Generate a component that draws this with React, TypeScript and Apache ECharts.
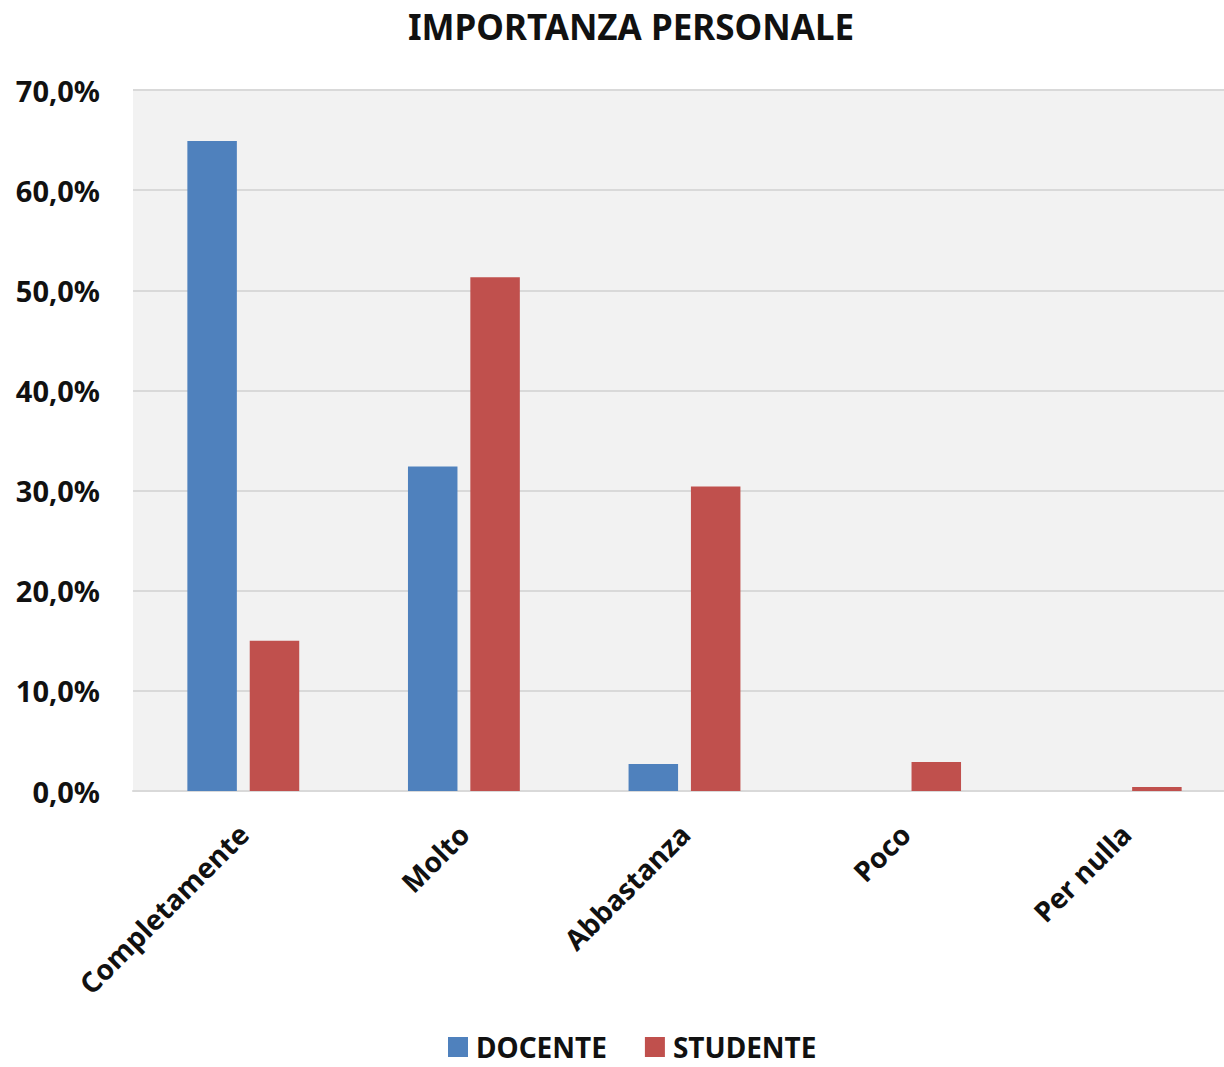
import React, { useEffect, useRef } from "react";
import * as echarts from "echarts";

const categories = ["Completamente", "Molto", "Abbastanza", "Poco", "Per nulla"];
const docente = [64.9, 32.4, 2.7, 0, 0];
const studente = [15.0, 51.3, 30.4, 2.9, 0.4];
const seriesNames = ["DOCENTE", "STUDENTE"];
const title = "IMPORTANZA PERSONALE";

const FONT = "'Noto Sans', 'Open Sans', sans-serif";

export default function App() {
  const ref = useRef<HTMLDivElement>(null);
  useEffect(() => {
    if (!ref.current) return;
    const chart = echarts.init(ref.current, undefined, { renderer: "svg" });
    chart.setOption({
      animation: false,
      backgroundColor: "#ffffff",
      title: {
        text: title,
        left: 626,
        textAlign: "center",
        top: 4,
        textStyle: { fontFamily: FONT, fontSize: 35, fontWeight: "bold", color: "#111" },
      },
      legend: {
        top: 1032,
        left: 448,
        itemWidth: 20,
        itemHeight: 20,
        itemGap: 38,
        icon: "rect",
        padding: 0,
        textStyle: {
          fontFamily: FONT,
          fontSize: 28,
          lineHeight: 30,
          fontWeight: "bold",
          color: "#111",
          padding: [0, 0, 0, 3],
        },
        data: seriesNames,
      },
      grid: {
        left: 133,
        width: 1103,
        top: 90,
        bottom: 276,
        show: true,
        backgroundColor: "#f2f2f2",
        borderWidth: 0,
        containLabel: false,
        outerBoundsMode: "none",
      },
      xAxis: {
        type: "category",
        data: categories,
        axisLine: { show: true, lineStyle: { color: "#d9d9d9", width: 2 } },
        axisTick: { show: false },
        axisLabel: {
          rotate: 45,
          margin: 38,
          fontFamily: FONT,
          fontSize: 28,
          fontWeight: "bold",
          color: "#111",
          interval: 0,
        },
      },
      yAxis: {
        type: "value",
        min: 0,
        max: 70,
        interval: 10,
        axisLine: { show: false },
        axisTick: { show: false },
        splitLine: { lineStyle: { color: "#d9d9d9", width: 2 } },
        axisLabel: {
          margin: 33,
          fontFamily: FONT,
          fontSize: 29,
          fontWeight: "bold",
          color: "#111",
          formatter: (v: number) => v.toFixed(1).replace(".", ",") + "%",
        },
      },
      series: [
        {
          name: seriesNames[0],
          type: "bar",
          data: docente,
          barWidth: 49.5,
          barGap: "26%",
          itemStyle: { color: "#4f81bd" },
        },
        {
          name: seriesNames[1],
          type: "bar",
          data: studente,
          barWidth: 49.5,
          itemStyle: { color: "#c0504d" },
        },
      ],
    });
    return () => chart.dispose();
  }, []);
  return (
    <div
      ref={ref}
      style={{ position: "absolute", left: 0, top: 0, width: 1224, height: 1067, overflow: "hidden" }}
    />
  );
}
